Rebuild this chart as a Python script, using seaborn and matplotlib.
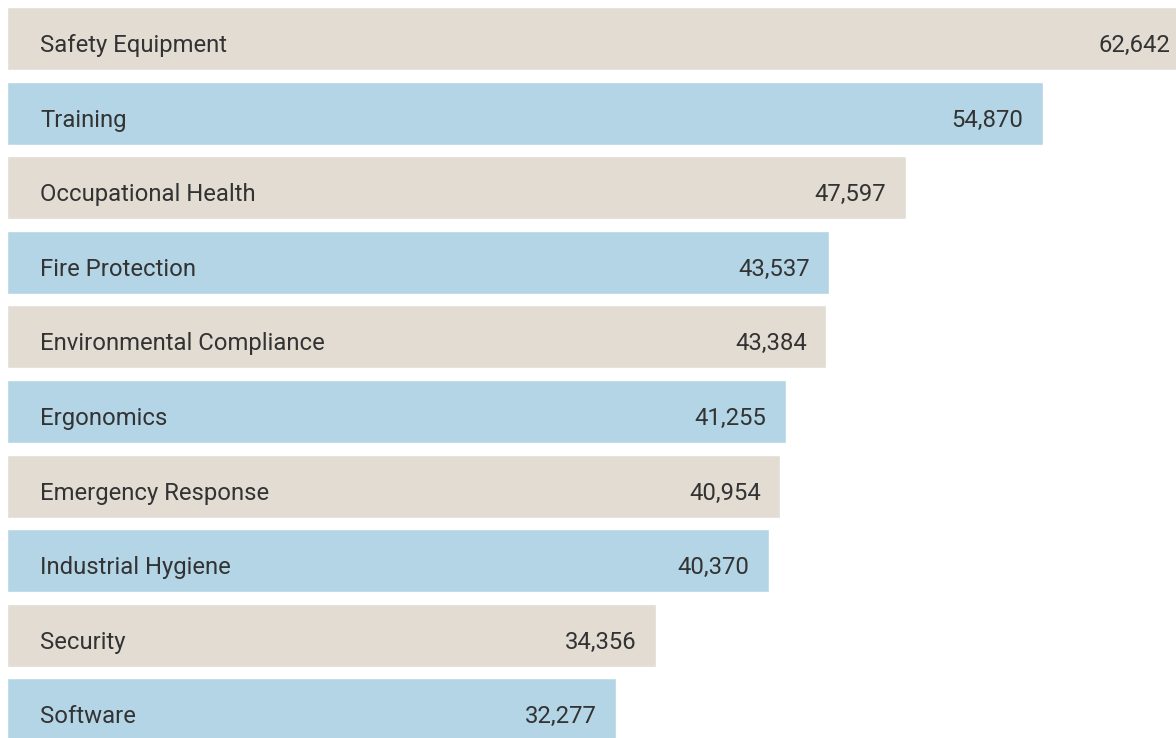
import matplotlib
matplotlib.use("Agg")
import matplotlib.pyplot as plt
import seaborn as sns

# chart data
categories = ["Safety Equipment", "Training", "Occupational Health", "Fire Protection",
              "Environmental Compliance", "Ergonomics", "Emergency Response",
              "Industrial Hygiene", "Security", "Software"]
values = [62642, 54870, 47597, 43537, 43384, 41255, 40954, 40370, 34356, 32277]

BEIGE = "#e2dcd3"
BLUE = "#b3d5e6"
TEXT = "#333333"

sns.set_theme(style="white")
plt.rcParams["font.family"] = ["Roboto", "DejaVu Sans"]

palette = [BEIGE if i % 2 == 0 else BLUE for i in range(len(categories))]

fig = plt.figure(figsize=(11.76, 7.38), dpi=100)
ax = fig.add_axes([7 / 1176, 0, 1169 / 1176, 1])

sns.barplot(x=values, y=categories, hue=categories, palette=palette,
            width=0.845, orient="h", legend=False, ax=ax, saturation=1)

ax.set_xlim(0, 61917)
ax.set_ylim(9.377, -0.516)
ax.axis("off")

for i, (cat, val) in enumerate(zip(categories, values)):
    ax.annotate(cat, xy=(0, i), xytext=(24, -9.7), textcoords="offset points",
                ha="left", va="baseline", fontsize=17.2, color=TEXT)
    ax.annotate(f"{val:,}", xy=(val, i), xytext=(-14, -9.7), textcoords="offset points",
                ha="right", va="baseline", fontsize=17.2, color=TEXT,
                annotation_clip=False)

fig.savefig("out.png", dpi=100)
